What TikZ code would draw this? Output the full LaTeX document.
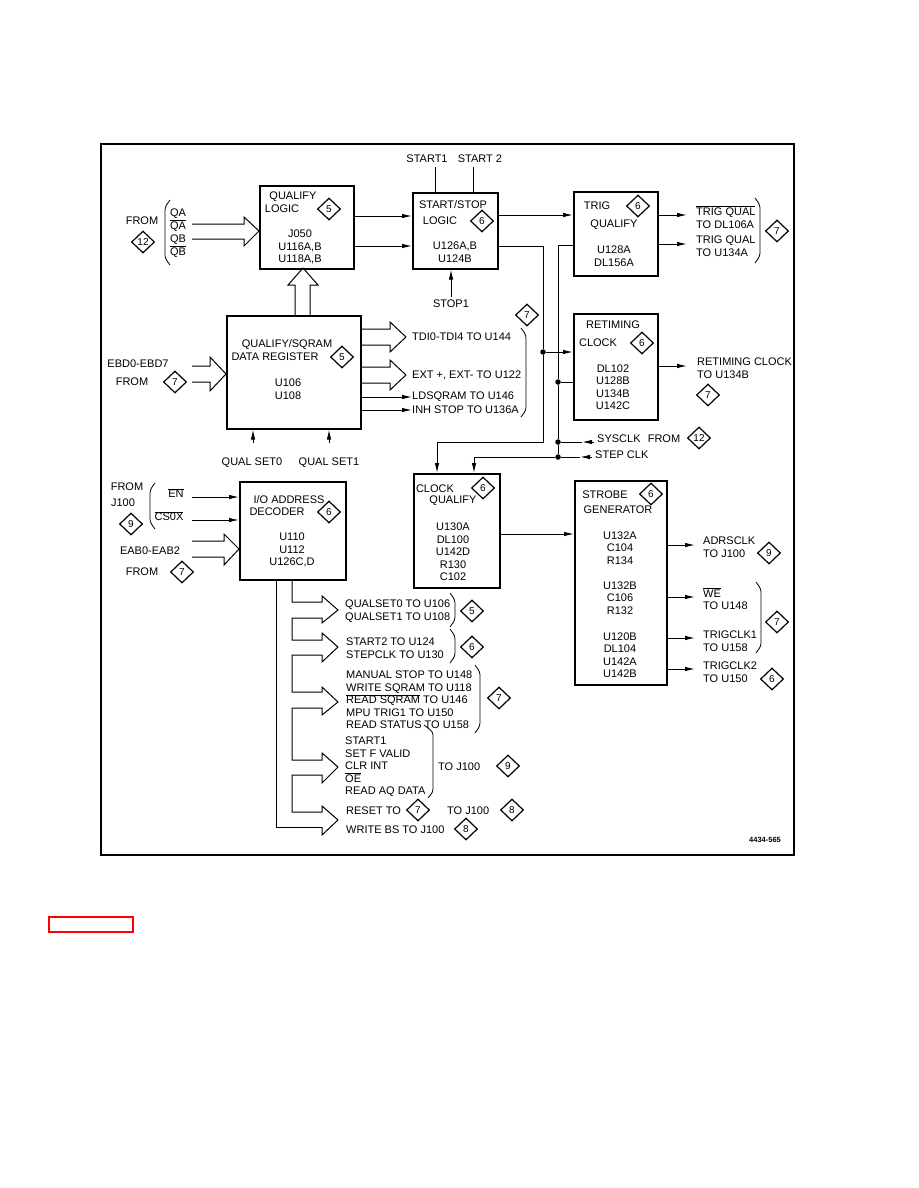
\documentclass[tikz,border=0pt]{standalone}
\usepackage{fontspec}
\setmainfont{Liberation Sans}
\usetikzlibrary{shapes.geometric,arrows.meta}
\newcommand\ovl[1]{\ensuremath{\overline{\mbox{#1}}}}
\tikzset{
 blk/.style={draw, line width=1.5pt, anchor=north west, inner sep=0},
 lbl/.style={font=\fontsize{11}{12.5}\selectfont, inner sep=0, align=center},
 lbll/.style={lbl, anchor=west, align=left},
 dia/.style={draw, diamond, line width=1.2pt, inner sep=0, minimum width=23pt, minimum height=22pt, font=\fontsize{10}{10}\selectfont},
 wire/.style={line width=1pt},
 arr/.style={wire, -{Latex[length=10pt,width=4.5pt]}},
 fat/.style={line width=1pt, line join=miter},
 jdot/.style={circle, fill, inner sep=0, minimum size=5.5pt},
 brk/.style={line width=0.8pt, rounded corners=3pt},
}
\begin{document}
\begin{tikzpicture}[x=1pt,y=-1pt]
\path[use as bounding box, fill=white] (0,0) rectangle (918,1188);
\draw[line width=1.7pt] (101,144) rectangle (794,855);
\draw[red, line width=2pt] (49,917) rectangle (133,932);
\node[font=\fontsize{7.5}{8}\selectfont\bfseries, inner sep=0] (fig) at (765,840) {4434-565};

% ---------- blocks
\node[blk, minimum width=94pt, minimum height=83pt] (ql) at (259,185) {};
\node[blk, minimum width=85pt, minimum height=76pt] (ss) at (412,192) {};
\node[blk, minimum width=84pt, minimum height=84pt] (tq) at (573,191) {};
\node[blk, minimum width=134pt, minimum height=113pt] (dr) at (226,315) {};
\node[blk, minimum width=84pt, minimum height=106pt] (rc) at (573,313) {};
\node[blk, minimum width=86pt, minimum height=114pt] (cq) at (413,473) {};
\node[blk, minimum width=92pt, minimum height=204pt] (sg) at (574,480) {};
\node[blk, minimum width=106pt, minimum height=98pt] (io) at (239,481) {};

% ---------- qualify logic
\node[lbl] (qlt1) at (293,197) {QUALIFY};
\node[lbl] (qlt2) at (282,209) {LOGIC};
\node[dia] (qld) at (329,209) {5};
\node[lbl] (qlt3) at (300,247) {J050\\U116A,B\\U118A,B};
\node[lbl] (from1) at (142,221) {FROM};
\node[dia] (d12a) at (143,242) {12};
\node[lbl] (qa) at (178,220) {QA\\\ovl{QA}};
\node[lbl] (qb) at (178,246) {QB\\\ovl{QB}};
\draw[brk] (170,200) -- (165,207) -- (165,258) -- (170,265);
\draw[fat] (192,224) -- (244,224) -- (244,217) -- (259,231) -- (244,246) -- (244,239) -- (192,239);
\draw[fat] (295,315) -- (295,285) -- (288,285) -- (303,268) -- (318,285) -- (310,285) -- (310,315);

% ---------- start/stop
\node[lbl] (sst1) at (453,205) {START/STOP};
\node[lbl] (sst2) at (440,221) {LOGIC};
\node[dia] (ssd) at (482,221) {6};
\node[lbl] (sst3) at (455,252) {U126A,B\\U124B};
\node[lbl] (start1) at (427,159) {START1};
\node[lbl] (start2) at (480,159) {START 2};
\node[lbl] (stop1) at (451,304) {STOP1};
\draw[wire] (435,167) -- (ss.north -| 435,0);
\draw[wire] (473,167) -- (ss.north -| 473,0);
\draw[arr] (stop1.north) ++(0,-3) -- (ss.south -| stop1.north);
\draw[arr] (ql.east |- 0,216) -- (ss.west |- 0,216);
\draw[arr] (ql.east |- 0,246) -- (ss.west |- 0,246);

% ---------- trig qualify
\node[lbl] (tqt1) at (597,206) {TRIG};
\node[dia] (tqd) at (638,206) {6};
\node[lbl] (tqt2) at (614,225) {QUALIFY};
\node[lbl] (tqt3) at (614,256) {U128A\\DL156A};
\draw[arr] (ss.east |- 0,215) -- (tq.west |- 0,215);
\coordinate (tqo1) at (687,215);
\coordinate (tqo2) at (687,244);
\draw[arr] (tq.east |- tqo1) -- (tqo1);
\draw[arr] (tq.east |- tqo2) -- (tqo2);
\node[lbll] (tqo1t) at (696,217) {\ovl{TRIG QUAL}\\TO DL106A};
\node[lbll] (tqo2t) at (696,246) {TRIG QUAL\\TO U134A};
\draw[brk] (755,198) -- (760,205) -- (760,256) -- (755,263);
\node[dia] (d7a) at (777,231) {7};

% ---------- data register
\node[lbl] (drt1) at (287,345) {QUALIFY/SQRAM};
\node[lbl] (drt2) at (275,357) {DATA REGISTER};
\node[dia] (drd) at (342,357) {5};
\node[lbl] (drt3) at (288,389) {U106\\U108};
\node[lbl] (ebd) at (138,364) {EBD0-EBD7};
\node[lbl] (from2) at (132,382) {FROM};
\node[dia] (d7b) at (175,382) {7};
\draw[fat] (192,366) -- (210,366) -- (210,357) -- (226,374) -- (210,391) -- (210,382) -- (192,382);
\draw[fat] (360,329) -- (390,329) -- (390,322) -- (406,337) -- (390,352) -- (390,345) -- (360,345);
\draw[fat] (360,367) -- (390,367) -- (390,360) -- (406,375) -- (390,390) -- (390,383) -- (360,383);
\node[lbll] (tdi) at (412,337) {TDI0-TDI4 TO U144};
\node[lbll] (ext) at (412,375) {EXT +, EXT- TO U122};
\node[lbll] (lds) at (412,397) {LDSQRAM TO U146};
\node[lbll] (inh) at (412,410) {INH STOP TO U136A};
\draw[arr] (dr.east |- lds) -- (lds.west);
\draw[arr] (dr.east |- inh) -- (inh.west);
\draw[brk] (521,328) -- (526,335) -- (526,410) -- (521,417);
\node[dia] (d7c) at (527,315) {7};
\node[lbl] (qs0) at (252,463) {QUAL SET0};
\node[lbl] (qs1) at (329,463) {QUAL SET1};
\draw[arr] (253,443) -- (dr.south -| 253,0);
\draw[arr] (329,443) -- (dr.south -| 329,0);

% ---------- retiming clock
\node[lbl] (rct1) at (613,325) {RETIMING};
\node[lbl] (rct2) at (598,343) {CLOCK};
\node[dia] (rcd) at (642,343) {6};
\node[lbl] (rct3) at (613,387) {DL102\\U128B\\U134B\\U142C};
\coordinate (rco) at (687,366);
\draw[arr] (rc.east |- rco) -- (rco);
\node[lbll] (rcot) at (697,368) {RETIMING CLOCK\\TO U134B};
\node[dia] (d7d) at (708,395) {7};

% ---------- clock bus
\node[jdot] (j1) at (543,352) {};
\node[jdot] (j2) at (558,382) {};
\node[jdot] (j3) at (558,442) {};
\node[jdot] (j4) at (558,457) {};
\draw[wire] (ss.east |- 0,246) -- (543,246) -- (j1) -- (543,442) -- (437,442);
\draw[arr] (437,442) -- (cq.north -| 437,0);
\draw[arr] (j1) -- (rc.west |- j1);
\draw[wire] (tq.west |- 0,245) -- (558,245) -- (j2) -- (j3) -- (j4) -- (474,457);
\draw[arr] (474,457) -- (cq.north -| 474,0);
\draw[wire] (j2) -- (rc.west |- j2);
\node[lbll] (sys) at (597,439) {SYSCLK};
\node[lbl] (from3) at (664,439) {FROM};
\node[dia] (d12b) at (699,438) {12};
\node[lbll] (stp) at (595,455) {STEP CLK};
\coordinate (sysa) at (594,442);
\coordinate (stpa) at (592,457);
\draw[arr] (sysa) -- (582,442);
\draw[wire] (582,442) -- (j3);
\draw[arr] (stpa) -- (580,457);
\draw[wire] (580,457) -- (j4);

% ---------- clock qualify
\node[lbl] (cqt1) at (435,489) {CLOCK};
\node[dia] (cqd) at (483,488) {6};
\node[lbl] (cqt2) at (453,501) {QUALIFY};
\node[lbl] (cqt3) at (453,552) {U130A\\DL100\\U142D\\R130\\C102};
\draw[arr] (cq.east |- 0,534) -- (sg.west |- 0,534);

% ---------- strobe generator
\node[lbl] (sgt1) at (605,495) {STROBE};
\node[dia] (sgd) at (651,494) {6};
\node[lbl] (sgt2) at (618,510) {GENERATOR};
\node[lbl] (sgt3) at (620,548) {U132A\\C104\\R134};
\node[lbl] (sgt4) at (620,598) {U132B\\C106\\R132};
\node[lbl] (sgt5) at (620,655) {U120B\\DL104\\U142A\\U142B};
\coordinate (so1) at (695,545);
\coordinate (so2) at (695,597);
\coordinate (so3) at (695,638);
\coordinate (so4) at (695,669);
\draw[arr] (sg.east |- so1) -- (so1);
\draw[arr] (sg.east |- so2) -- (so2);
\draw[arr] (sg.east |- so3) -- (so3);
\draw[arr] (sg.east |- so4) -- (so4);
\node[lbll] (so1t) at (703,547) {ADRSCLK\\TO J100};
\node[dia] (d9a) at (769,553) {9};
\node[lbll] (so2t) at (703,599) {\ovl{WE}\\TO U148};
\node[lbll] (so3t) at (703,641) {TRIGCLK1\\TO U158};
\node[lbll] (so4t) at (703,672) {TRIGCLK2\\TO U150};
\node[dia] (d6a) at (772,679) {6};
\draw[brk] (756,582) -- (761,589) -- (761,646) -- (756,653);
\node[dia] (d7e) at (777,622) {7};

% ---------- I/O address decoder
\node[lbl] (iot1) at (289,500) {I/O ADDRESS};
\node[lbl] (iot2) at (277,512) {DECODER};
\node[dia] (iod) at (329,512) {6};
\node[lbl] (iot3) at (292,550) {U110\\U112\\U126C,D};
\node[lbl] (from4) at (127,487) {FROM};
\node[lbl] (j100) at (123,503) {J100};
\node[dia] (d9b) at (131,524) {9};
\draw[brk] (155,483) -- (150,490) -- (150,522) -- (155,529);
\node[lbl] (en) at (176,493) {\ovl{EN}};
\node[lbl] (cs) at (169,516) {\ovl{CS0X}};
\draw[arr] (192,497) -- (io.west |- 0,497);
\draw[arr] (192,520) -- (io.west |- 0,520);
\draw[fat] (192,541) -- (224,541) -- (224,534) -- (239,549) -- (224,565) -- (224,557) -- (192,557);
\node[lbl] (eab) at (150,551) {EAB0-EAB2};
\node[lbl] (from5) at (142,572) {FROM};
\node[dia] (d7f) at (182,572) {7};

% ---------- decoder fan-out bus
\draw[fat] (io.south -| 292,0) -- (292,602) -- (322,602) -- (322,596) -- (338,610) -- (322,623) -- (322,618) -- (292,618)
 -- (292,640) -- (322,640) -- (322,633) -- (338,647) -- (322,662) -- (322,655) -- (292,655)
 -- (292,692) -- (322,692) -- (322,687) -- (338,702) -- (322,715) -- (322,708) -- (292,708)
 -- (292,760) -- (322,760) -- (322,753) -- (338,767) -- (322,783) -- (322,775) -- (292,775)
 -- (292,812) -- (322,812) -- (322,806) -- (338,820) -- (322,835) -- (322,827);
\draw[fat] (io.south -| 276,0) -- (276,827) -- (322,827);

\node[lbll] (g1) at (345,611) {QUALSET0 TO U106\\QUALSET1 TO U108};
\draw[brk] (450,593) -- (455,600) -- (455,620) -- (450,627);
\node[dia] (d5b) at (472,611) {5};
\node[lbll] (g2) at (346,648) {START2 TO U124\\STEPCLK TO U130};
\draw[brk] (450,629) -- (455,636) -- (455,656) -- (450,663);
\node[dia] (d6b) at (472,647) {6};
\node[lbll] (g3) at (346,700) {MANUAL STOP TO U148\\WRITE SQRAM TO U118\\\ovl{READ SQRAM} TO U146\\MPU TRIG1 TO U150\\READ STATUS TO U158};
\draw[brk] (475,665) -- (480,672) -- (480,726) -- (475,733);
\node[dia] (d7g) at (499,698) {7};
\node[lbll] (g4) at (345,767) {START1\\SET F VALID\\CLR INT\\\ovl{OE}\\READ AQ DATA};
\draw[brk] (424,725) -- (433,732) -- (433,792) -- (428,798);
\node[lbll] (g4t) at (438,767) {TO J100};
\node[dia] (d9c) at (508,766) {9};
\node[lbll] (g5) at (346,811) {RESET TO};
\node[dia] (d7h) at (418,810) {7};
\node[lbll] (g5t) at (447,811) {TO J100};
\node[dia] (d8a) at (512,810) {8};
\node[lbll] (g6) at (346,830) {WRITE BS TO J100};
\node[dia] (d8b) at (466,829) {8};
\end{tikzpicture}
\end{document}
